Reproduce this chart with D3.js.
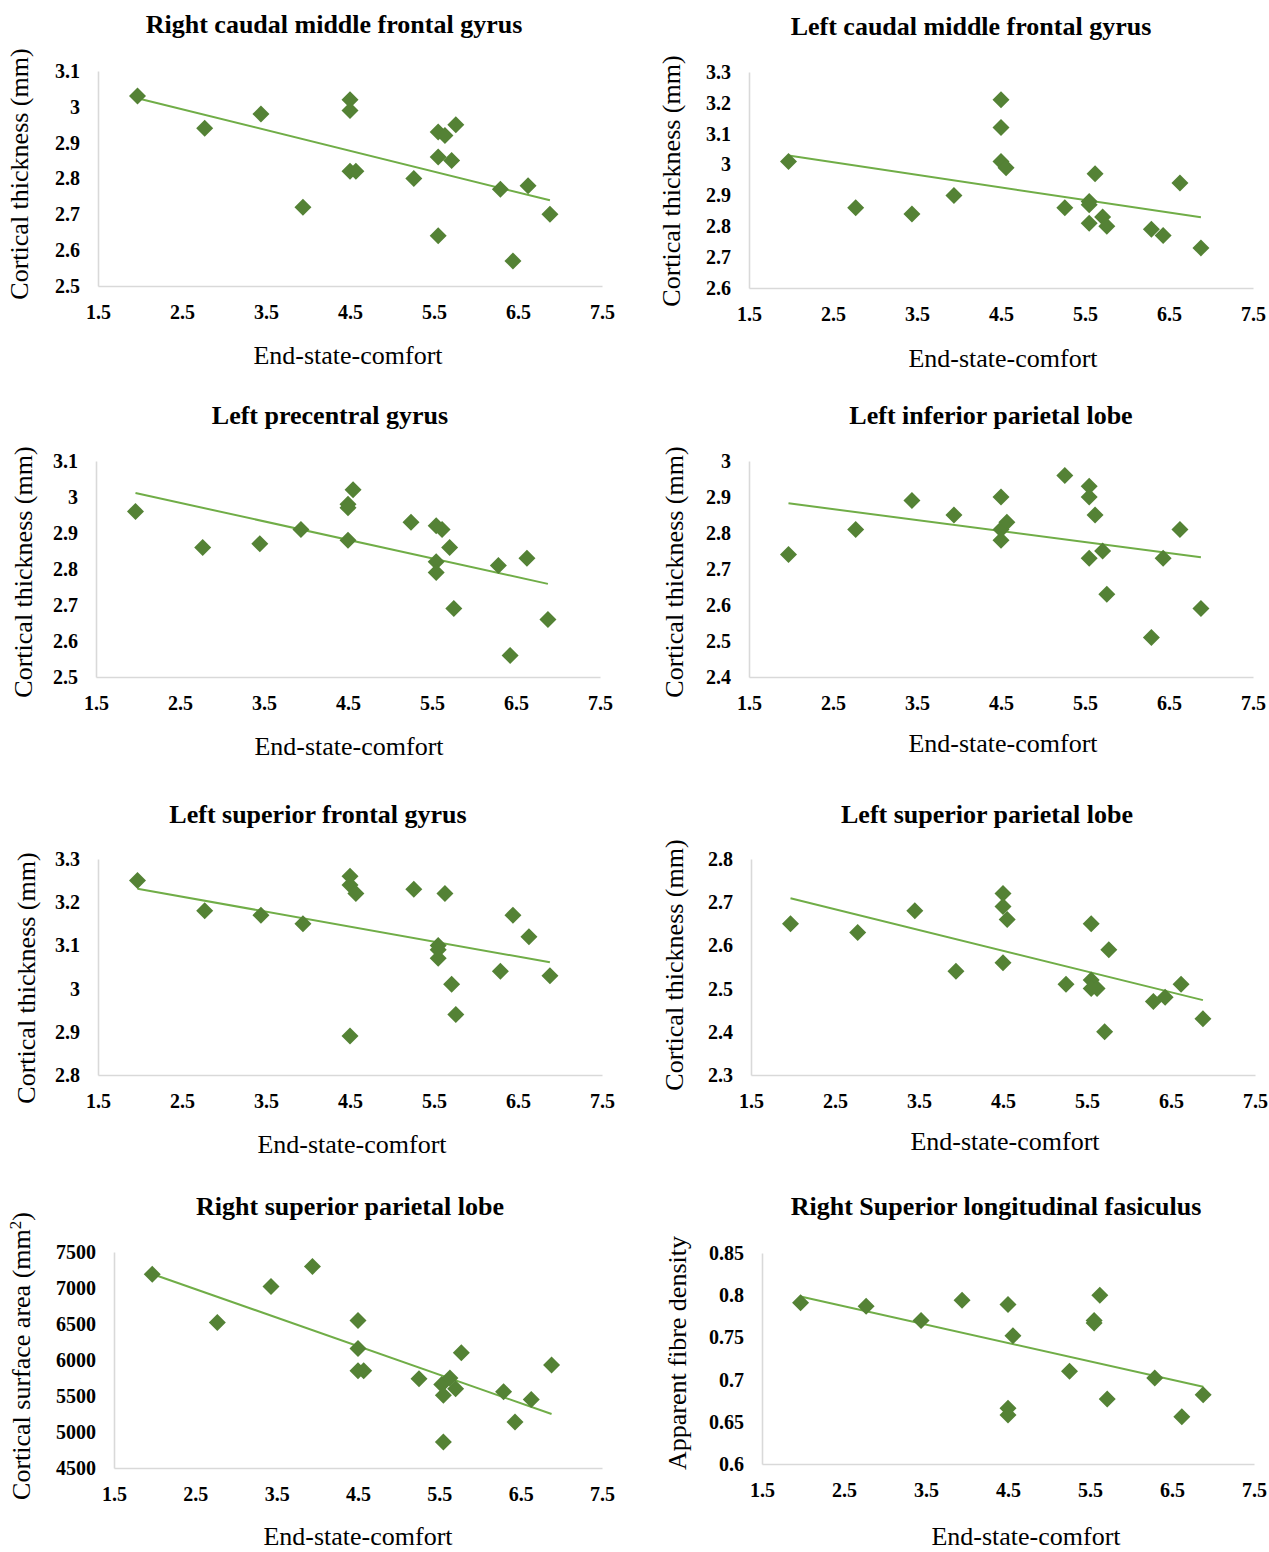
<!DOCTYPE html>
<html>
<head>
<meta charset="utf-8">
<script src="https://cdn.jsdelivr.net/npm/d3@7"></script>
<style>
  body { margin: 0; background: #fff; }
  svg { display: block; }
  text { font-family: "Liberation Serif", "Times New Roman", serif; fill: #000; }
</style>
</head>
<body>
<svg></svg>
<script>
// ---- data ----
var xTicks = [1.5, 2.5, 3.5, 4.5, 5.5, 6.5, 7.5];

var titles = [
  "Right caudal middle frontal gyrus",
  "Left caudal middle frontal gyrus",
  "Left precentral gyrus",
  "Left inferior parietal lobe",
  "Left superior frontal gyrus",
  "Left superior parietal lobe",
  "Right superior parietal lobe",
  "Right Superior longitudinal fasiculus"
];
var xTitle = "End-state-comfort";
var yTitles = [
  "Cortical thickness (mm)", "Cortical thickness (mm)", "Cortical thickness (mm)",
  "Cortical thickness (mm)", "Cortical thickness (mm)", "Cortical thickness (mm)",
  "Cortical surface area (mm|2|)", "Apparent fibre density"
];

var yTicks = [
  [2.5, 2.6, 2.7, 2.8, 2.9, 3, 3.1],
  [2.6, 2.7, 2.8, 2.9, 3, 3.1, 3.2, 3.3],
  [2.5, 2.6, 2.7, 2.8, 2.9, 3, 3.1],
  [2.4, 2.5, 2.6, 2.7, 2.8, 2.9, 3],
  [2.8, 2.9, 3, 3.1, 3.2, 3.3],
  [2.3, 2.4, 2.5, 2.6, 2.7, 2.8],
  [4500, 5000, 5500, 6000, 6500, 7000, 7500],
  [0.6, 0.65, 0.7, 0.75, 0.8, 0.85]
];

var rcmfX = [1.97, 2.77, 3.44, 3.94, 4.5, 4.5, 4.5, 4.57, 5.26, 5.55, 5.63, 5.76, 5.55, 5.71, 5.55, 6.29, 6.62, 6.44, 6.88];
var rcmfY = [3.03, 2.94, 2.98, 2.72, 3.02, 2.99, 2.82, 2.82, 2.80, 2.93, 2.92, 2.95, 2.86, 2.85, 2.64, 2.77, 2.78, 2.57, 2.70];

var lcmfX = [1.97, 2.77, 3.44, 3.94, 4.5, 4.5, 4.5, 4.56, 5.26, 5.55, 5.55, 5.62, 5.55, 5.71, 5.76, 6.29, 6.43, 6.63, 6.88];
var lcmfY = [3.01, 2.86, 2.84, 2.90, 3.21, 3.12, 3.01, 2.99, 2.86, 2.88, 2.87, 2.97, 2.81, 2.83, 2.80, 2.79, 2.77, 2.94, 2.73];

var lpcgX = [1.97, 2.77, 3.45, 3.94, 4.5, 4.5, 4.5, 4.56, 5.25, 5.55, 5.62, 5.55, 5.55, 5.71, 5.76, 6.29, 6.43, 6.63, 6.88];
var lpcgY = [2.96, 2.86, 2.87, 2.91, 2.98, 2.97, 2.88, 3.02, 2.93, 2.92, 2.91, 2.82, 2.79, 2.86, 2.69, 2.81, 2.56, 2.83, 2.66];

var liplX = [1.97, 2.77, 3.44, 3.94, 4.5, 4.5, 4.5, 4.57, 5.26, 5.55, 5.55, 5.55, 5.62, 5.71, 5.76, 6.29, 6.43, 6.63, 6.88];
var liplY = [2.74, 2.81, 2.89, 2.85, 2.90, 2.81, 2.78, 2.83, 2.96, 2.93, 2.90, 2.73, 2.85, 2.75, 2.63, 2.51, 2.73, 2.81, 2.59];

var lsfgX = [1.97, 2.77, 3.44, 3.94, 4.5, 4.5, 4.57, 4.5, 5.26, 5.63, 5.55, 5.55, 5.55, 5.71, 5.76, 6.29, 6.44, 6.63, 6.88];
var lsfgY = [3.25, 3.18, 3.17, 3.15, 3.26, 3.24, 3.22, 2.89, 3.23, 3.22, 3.10, 3.09, 3.07, 3.01, 2.94, 3.04, 3.17, 3.12, 3.03];

var lsplX = [1.97, 2.77, 3.45, 3.94, 4.5, 4.5, 4.55, 4.5, 5.25, 5.55, 5.55, 5.55, 5.62, 5.76, 5.71, 6.29, 6.43, 6.62, 6.88];
var lsplY = [2.65, 2.63, 2.68, 2.54, 2.72, 2.69, 2.66, 2.56, 2.51, 2.65, 2.52, 2.50, 2.50, 2.59, 2.40, 2.47, 2.48, 2.51, 2.43];

var rsplX = [1.97, 2.77, 3.43, 3.94, 4.5, 4.5, 4.5, 4.57, 5.25, 5.53, 5.55, 5.55, 5.63, 5.70, 5.77, 6.29, 6.43, 6.63, 6.88];
var rsplY = [7190, 6520, 7020, 7300, 6550, 6160, 5850, 5850, 5740, 5660, 5510, 4860, 5750, 5600, 6100, 5560, 5140, 5450, 5930];

var rslfX = [1.97, 2.77, 3.44, 3.94, 4.5, 4.56, 4.5, 4.5, 5.25, 5.55, 5.55, 5.62, 5.71, 6.29, 6.62, 6.88];
var rslfY = [0.791, 0.787, 0.770, 0.794, 0.789, 0.752, 0.666, 0.658, 0.710, 0.770, 0.767, 0.800, 0.677, 0.702, 0.656, 0.682];

var seriesX = [rcmfX, lcmfX, lpcgX, liplX, lsfgX, lsplX, rsplX, rslfX];
var seriesY = [rcmfY, lcmfY, lpcgY, liplY, lsfgY, lsplY, rsplY, rslfY];

// ---- layout (pixel boxes of each panel) ----
var boxes = [
  {left: 98,  right: 602,  top: 71,   bottom: 286,  tx: 334, ty: 33,   xx: 348,  xy: 364,  yx: 20,  yy: 174},
  {left: 749, right: 1253, top: 72,   bottom: 288,  tx: 971, ty: 35,   xx: 1003, xy: 367,  yx: 672, yy: 181},
  {left: 96,  right: 600,  top: 461,  bottom: 677,  tx: 330, ty: 424,  xx: 349,  xy: 755,  yx: 24,  yy: 572},
  {left: 749, right: 1253, top: 461,  bottom: 677,  tx: 991, ty: 424,  xx: 1003, xy: 752,  yx: 675, yy: 572},
  {left: 98,  right: 602,  top: 859,  bottom: 1075, tx: 318, ty: 823,  xx: 352,  xy: 1153, yx: 27,  yy: 978},
  {left: 751, right: 1255, top: 859,  bottom: 1075, tx: 987, ty: 823,  xx: 1005, xy: 1150, yx: 675, yy: 965},
  {left: 114, right: 602,  top: 1252, bottom: 1468, tx: 350, ty: 1215, xx: 358,  xy: 1545, yx: 22,  yy: 1356},
  {left: 762, right: 1254, top: 1253, bottom: 1464, tx: 996, ty: 1215, xx: 1026, xy: 1545, yx: 678, yy: 1353}
];

var svg = d3.select("svg").attr("width", 1269).attr("height", 1552);

var markColor = "#548235",
    trendColor = "#70AD47",
    axisColor = "#D9D9D9";

var fmt = d3.format("~g");

function fit(xs, ys) {
  var mx = d3.mean(xs), my = d3.mean(ys);
  var b = d3.sum(xs, function(v, i) { return (v - mx) * (ys[i] - my); }) /
          d3.sum(xs, function(v) { return (v - mx) * (v - mx); });
  return {b: b, a: my - b * mx};
}

boxes.forEach(function(p, i) {
  var yt = yTicks[i];
  var x = d3.scaleLinear().domain([1.5, 7.5]).range([p.left, p.right]);
  var y = d3.scaleLinear().domain([yt[0], yt[yt.length - 1]]).range([p.bottom, p.top]);
  var g = svg.append("g");

  // axes
  var ax = g.append("g")
    .attr("transform", "translate(0," + p.bottom + ")")
    .call(d3.axisBottom(x).tickValues(xTicks).tickFormat(fmt).tickSize(0).tickPadding(19));
  var ay = g.append("g")
    .attr("transform", "translate(" + p.left + ",0)")
    .call(d3.axisLeft(y).tickValues(yt).tickFormat(fmt).tickSize(0).tickPadding(18));
  [ax, ay].forEach(function(a) {
    a.attr("font-family", null).attr("font-size", null);
    a.select(".domain").attr("stroke", axisColor).attr("stroke-width", 1.6);
    a.selectAll("text")
      .style("font-size", "20px")
      .style("font-weight", "bold")
      .attr("fill", "#000");
  });

  // trend line (least squares, spanning the data)
  var xs = seriesX[i], ys = seriesY[i];
  var t = fit(xs, ys);
  var ext = d3.extent(xs);
  g.append("path")
    .datum(ext)
    .attr("fill", "none")
    .attr("stroke", trendColor)
    .attr("stroke-width", 2)
    .attr("d", d3.line().x(function(d) { return x(d); }).y(function(d) { return y(t.a + t.b * d); }));

  // diamonds
  var pts = xs.map(function(v, k) { return [v, ys[k]]; });
  g.append("g").selectAll("path")
    .data(pts)
    .enter().append("path")
    .attr("transform", function(d) { return "translate(" + x(d[0]) + "," + y(d[1]) + ")"; })
    .attr("d", "M0,-8.5L8.5,0L0,8.5L-8.5,0Z")
    .attr("fill", markColor);

  // titles
  g.append("text")
    .attr("x", p.tx).attr("y", p.ty)
    .attr("text-anchor", "middle")
    .style("font-size", "26px")
    .style("font-weight", "bold")
    .text(titles[i]);

  g.append("text")
    .attr("x", p.xx).attr("y", p.xy)
    .attr("text-anchor", "middle")
    .style("font-size", "26px")
    .text(xTitle);

  var yl = g.append("text")
    .attr("transform", "translate(" + (p.yx + 8) + "," + p.yy + ") rotate(-90)")
    .attr("text-anchor", "middle")
    .style("font-size", "26px");
  var parts = yTitles[i].split("|");
  yl.append("tspan").text(parts[0]);
  if (parts.length > 1) {
    yl.append("tspan").attr("baseline-shift", "super").style("font-size", "17px").text(parts[1]);
    yl.append("tspan").text(parts[2]);
  }
});
</script>
</body>
</html>
